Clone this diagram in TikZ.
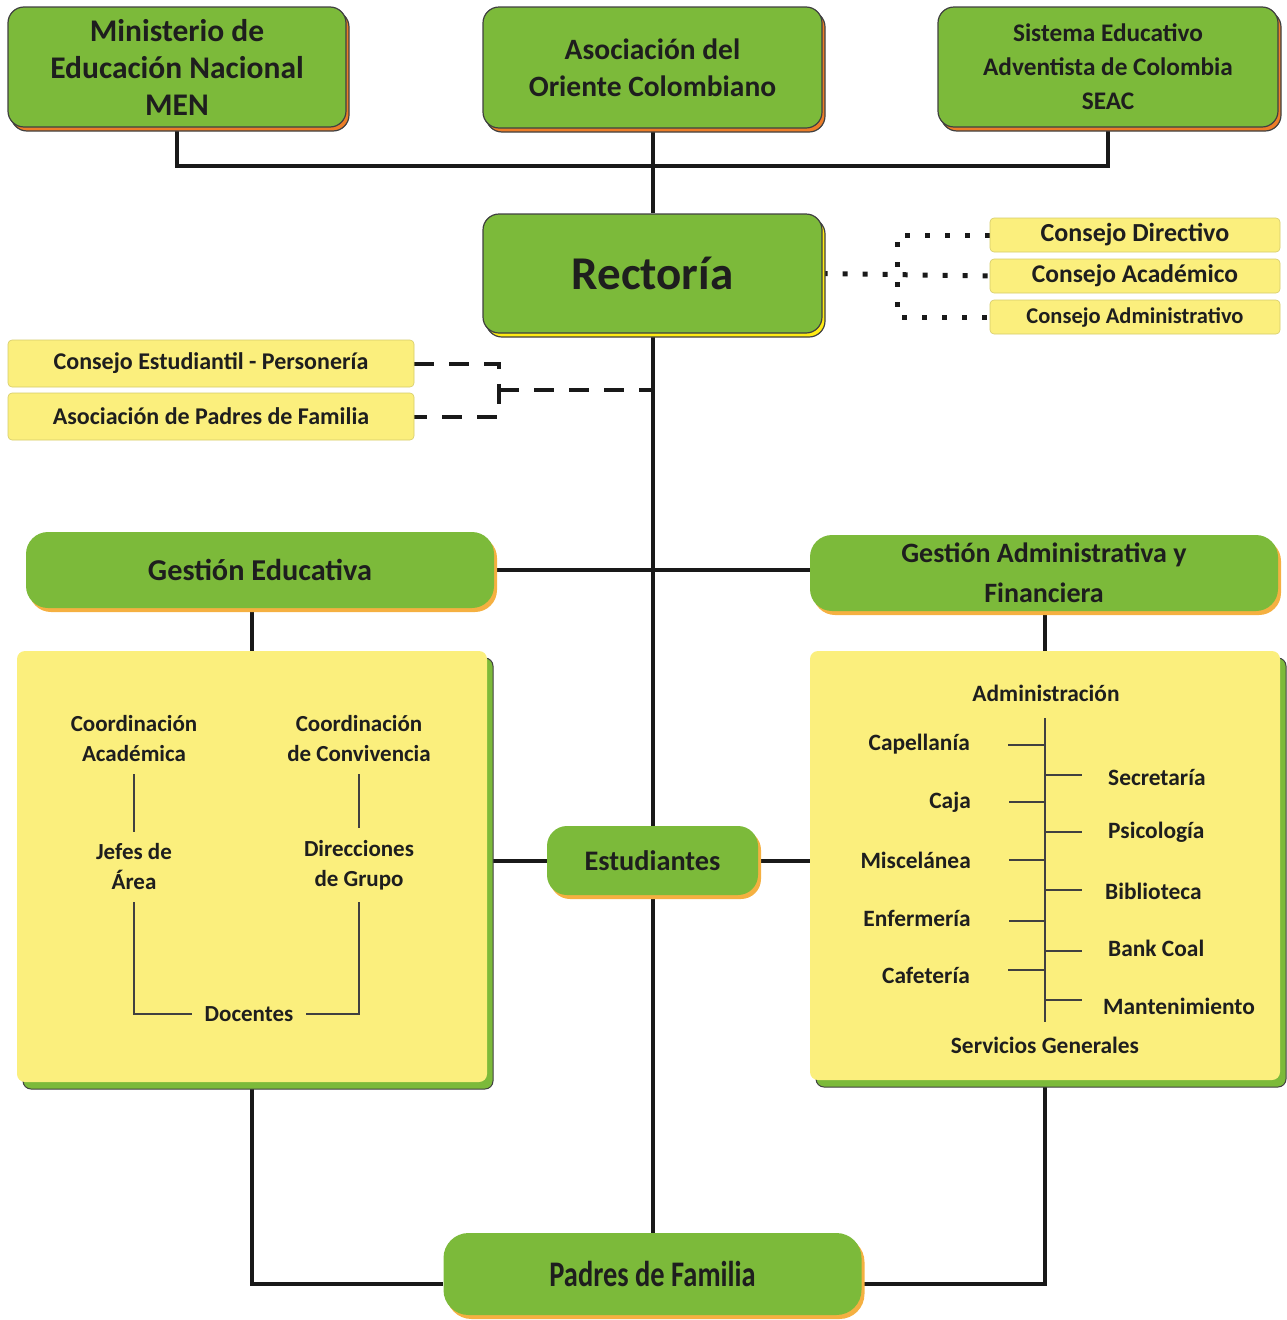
\documentclass[tikz,border=0pt]{standalone}
\usepackage{fontspec}
\setmainfont{Carlito}
\usetikzlibrary{shadows,calc}
\definecolor{mygreen}{RGB}{124,186,58}
\definecolor{orangeS}{RGB}{236,125,40}
\definecolor{lorangeS}{RGB}{245,176,65}
\definecolor{yelS}{RGB}{255,235,20}
\definecolor{lyellow}{RGB}{251,239,125}
\definecolor{txt}{RGB}{30,30,30}
\pgfdeclarelayer{background}
\pgfsetlayers{background,main}
\newcommand{\fs}[2]{\fontsize{#1}{#2}\selectfont}
\tikzset{
  x=1pt, y=-1pt,
  every node/.style={text=txt, font=\bfseries},
  topbox/.style={draw=black!75, line width=1.2pt, fill=mygreen, rounded corners=16pt,
    inner sep=0pt, align=center,
    drop shadow={shadow xshift=3pt, shadow yshift=-4pt, fill=orangeS, draw=black!75, line width=1.2pt, opacity=1}},
  rectbox/.style={draw=black!75, line width=1.2pt, fill=mygreen, rounded corners=16pt,
    inner sep=0pt, align=center,
    drop shadow={shadow xshift=3pt, shadow yshift=-4pt, fill=yelS, draw=black!75, line width=1.2pt, opacity=1}},
  gbox/.style={fill=mygreen, rounded corners=22pt, inner sep=0pt, align=center,
    drop shadow={shadow xshift=3pt, shadow yshift=-4pt, fill=lorangeS, opacity=1}},
  cbox/.style={fill=lyellow, draw=lyellow!85!black, line width=0.6pt, rounded corners=4pt, inner sep=0pt},
  bigbox/.style={fill=lyellow, rounded corners=8pt, inner sep=0pt,
    drop shadow={shadow xshift=6pt, shadow yshift=-7pt, fill=mygreen, draw=black!75, line width=1pt, opacity=1}},
  conn/.style={line width=4pt, draw=black!90},
  dotline/.style={line width=5pt, draw=black!90, dash pattern=on 5pt off 15pt},
  dashline/.style={line width=4pt, draw=black!90, dash pattern=on 20pt off 15pt},
  inner/.style={line width=1.4pt, draw=black!75},
  itxt/.style={font=\bfseries\fs{23}{30}, align=center, inner sep=12pt},
  rtxt/.style={font=\bfseries\fs{23.4}{28}, inner sep=0pt},
}
\begin{document}
\begin{tikzpicture}
\useasboundingbox (0,0) rectangle (1286,1320);
% top boxes
\node[topbox, minimum width=338pt, minimum height=120pt, font=\bfseries\fs{31.5}{37}] (men) at (177,67)
  {Ministerio de\\Educación Nacional\\MEN};
\node[topbox, minimum width=339pt, minimum height=121pt, font=\bfseries\fs{29.5}{37}] (aoc) at (652.5,67.5)
  {Asociación del\\Oriente Colombiano};
\node[topbox, minimum width=340pt, minimum height=120pt, font=\bfseries\fs{25.3}{34}] (seac) at (1108,67)
  {Sistema Educativo\\Adventista de Colombia\\SEAC};
% rectoria
\node[rectbox, minimum width=339pt, minimum height=119pt, font=\bfseries\fs{47}{50}] (rect) at (652.5,273.5) {Rectoría};
% consejos
\node[cbox, minimum width=290pt, minimum height=34pt, font=\bfseries\fs{26}{30}] (cd) at (1135,235) {Consejo Directivo};
\node[cbox, minimum width=290pt, minimum height=34pt, font=\bfseries\fs{25.5}{30}] (ca) at (1135,276) {Consejo Académico};
\node[cbox, minimum width=290pt, minimum height=34pt, font=\bfseries\fs{22.5}{30}] (cad) at (1135,317) {Consejo Administrativo};
\node[cbox, minimum width=406pt, minimum height=47pt, font=\bfseries\fs{24}{30}] (ce) at (211,363.5) {Consejo Estudiantil - Personería};
\node[cbox, minimum width=406pt, minimum height=47pt, font=\bfseries\fs{24}{30}] (apf) at (211,416.5) {Asociación de Padres de Familia};
% gestion
\node[gbox, minimum width=468pt, minimum height=76pt, font=\bfseries\fs{30.3}{36}] (ge) at (260,570) {Gestión Educativa};
\node[gbox, minimum width=468pt, minimum height=76pt, font=\bfseries\fs{28}{40}] (ga) at (1044,573) {Gestión Administrativa y\\Financiera};
% big boxes
\node[bigbox, minimum width=470pt, minimum height=431pt] (lbox) at (252,866.5) {};
\node[bigbox, minimum width=470pt, minimum height=429pt] (rbox) at (1045,865.5) {};
% estudiantes & padres
\node[gbox, rounded corners=20pt, minimum width=211pt, minimum height=69pt, font=\bfseries\fs{28.3}{32}] (est) at (652.5,860.5) {Estudiantes};
\node[gbox, rounded corners=25pt, minimum width=418pt, minimum height=82pt, font=\bfseries\fs{36}{40}] (pf) at (652.5,1274) {\scalebox{0.79}[1]{Padres de Familia}};
% left box content
\node[itxt] (cac) at (134,739) {Coordinación\\Académica};
\node[itxt] (ccv) at (359,739) {Coordinación\\de Convivencia};
\node[itxt] (jfa) at (134,867) {Jefes de\\Área};
\node[itxt] (dgr) at (359,865) {Direcciones\\de Grupo};
\node[itxt] (doc) at (249,1014) {Docentes};
\draw[inner] (cac) -- (jfa);
\draw[inner] (ccv) -- (dgr);
\draw[inner] (jfa.south) |- (doc.west);
\draw[inner] (dgr.south) |- (doc.east);
% right box content
\node[rtxt] (adm) at (1046,693) {Administración};
\coordinate (vt) at (1045,718);
\coordinate (vb) at (1045,1022);
\coordinate (rt) at (1082,718);
\draw[inner] (vt) -- (vb);
\node[rtxt, anchor=east] (cap) at (970,744) {Capellanía};
\node[rtxt, anchor=east] (caj) at (971,802) {Caja};
\node[rtxt, anchor=east] (mis) at (971,860) {Miscelánea};
\node[rtxt, anchor=east] (enf) at (971,918) {Enfermería};
\node[rtxt, anchor=east] (caf) at (970,975) {Cafetería};
\node[rtxt, anchor=west] (sec) at (1108,777) {Secretaría};
\node[rtxt, anchor=west] (psi) at (1108,832) {Psicología};
\node[rtxt, anchor=west] (bib) at (1105,891) {Biblioteca};
\node[rtxt, anchor=west] (ban) at (1108,948) {Bank Coal};
\node[rtxt, anchor=west] (man) at (1103,1006) {Mantenimiento};
\node[rtxt] (svg) at (1045,1045) {Servicios Generales};
\foreach \n/\d in {cap/-1, caj/0, mis/0, enf/-3, caf/5}{
  \draw[inner] ([xshift=38pt,yshift=\d pt]\n.east) -- ([yshift=\d pt]\n.east -| vt);
}
\foreach \n/\d in {sec/2, psi/0, bib/1, ban/-3, man/6}{
  \draw[inner] ([yshift=\d pt]\n.west -| vt) -- ([yshift=\d pt]\n.west -| rt);
}
% connectors
\coordinate (jt) at (652.5,166);
\coordinate (dj) at (897,276);
\coordinate (dk) at (499,390);
\begin{pgfonlayer}{background}
\draw[conn] (men.south) |- (jt) -| (seac.south);
\draw[conn] (aoc.south) -- (rect.north);
\draw[conn] (rect.south) -- (est.north);
\draw[conn] (est.south) -- (pf.north);
\draw[conn] (ge.east) -- (ge.east -| ga.west);
\draw[conn] (lbox.north) -- (lbox.north |- ge.south);
\draw[conn] (rbox.north) -- (rbox.north |- ga.south);
\draw[conn] (est.west) -- (est.west -| lbox.east);
\draw[conn] (est.east) -- (est.east -| rbox.west);
\draw[conn] (lbox.south) |- ([yshift=-10pt]pf.west);
\draw[conn] (rbox.south) |- ([yshift=-10pt]pf.east);
\draw[dotline] (rect.east) -- (ca.west);
\draw[dotline] (cd.west) -- (cd.west -| dj) -- (cad.west -| dj) -- (cad.west);
\draw[dashline] (ce.east) -- (ce.east -| dk) -- (apf.east -| dk) -- (apf.east);
\draw[dashline] (dk) -- (dk -| rect.south);
\end{pgfonlayer}
\end{tikzpicture}
\end{document}
